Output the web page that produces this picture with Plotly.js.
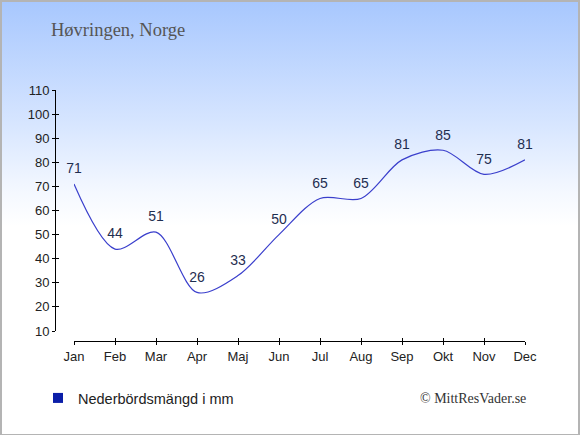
<!DOCTYPE html>
<html>
<head>
<meta charset="utf-8">
<script src="https://cdn.plot.ly/plotly-3.0.1.min.js"></script>
<style>
  html, body { margin: 0; padding: 0; }
  #wrap { position: relative; width: 580px; height: 435px;
    background: linear-gradient(to bottom, #a7c7fe 0%, #d6e5ff 28%, #f4f8ff 44%, #ffffff 52%, #ffffff 100%); }
  #chart { position: absolute; left: 0; top: 0; width: 580px; height: 435px; }
  #frame { position: absolute; left: 0; top: 0; width: 580px; height: 435px; box-sizing: border-box;
    border: 1px solid #b4b4b4; border-left-width: 2px; border-top-width: 2px; border-right-width: 2px; pointer-events: none; }
</style>
</head>
<body>
<div id="wrap"><div id="chart"></div><div id="frame"></div></div>
<script>
const months = ["Jan","Feb","Mar","Apr","Maj","Jun","Jul","Aug","Sep","Okt","Nov","Dec"];
const precipitation = [71, 44, 51, 26, 33, 50, 65, 65, 81, 85, 75, 81];
const yTicks = [10,20,30,40,50,60,70,80,90,100,110];
const seriesName = "Nederbördsmängd i mm";
const titleText = "Høvringen, Norge";
const creditText = "© MittResVader.se";

const W = 580, H = 435;
const px = v => v / W;
const py = v => 1 - v / H;

const main = {
  x: months, y: precipitation, type: "scatter", mode: "lines+markers+text",
  line: { shape: "spline", smoothing: 0.9, color: "#3a3fcc", width: 1.2 },
  marker: { size: 10, opacity: 0 },
  text: precipitation.map(String), textposition: "top center",
  textfont: { family: "Liberation Sans, Arial, sans-serif", size: 14, color: "#1f2e50" },
  cliponaxis: false, showlegend: false, hoverinfo: "skip"
};
const legendItem = {
  x: [null], y: [null], type: "scatter", mode: "markers", name: seriesName,
  marker: { symbol: "square", size: 10, color: "#0b1ea8" }, showlegend: true
};
const tickOverlay = {
  x: [null], y: [null], type: "scatter", mode: "markers", xaxis: "x2", yaxis: "y2",
  showlegend: false, hoverinfo: "skip"
};

const axFont = { family: "Liberation Sans, Arial, sans-serif", size: 13, color: "#222" };
const xDomain = [px(74), px(525)];
const yDomain = [py(331), py(90)];

const layout = {
  width: W, height: H,
  margin: { l: 0, r: 0, t: 0, b: 0 },
  paper_bgcolor: "rgba(0,0,0,0)", plot_bgcolor: "rgba(0,0,0,0)",
  title: { text: titleText, x: px(51), xanchor: "left", xref: "paper",
    y: py(30), yanchor: "middle", yref: "paper",
    font: { family: "Liberation Serif, DejaVu Serif, serif", size: 18.5, color: "#555" } },
  xaxis: { type: "category", categoryarray: months, range: [0, 11], domain: xDomain,
    anchor: "free", position: py(341), showline: true, linecolor: "#000", linewidth: 1,
    ticks: "outside", ticklen: 3, tickcolor: "#000", showgrid: false, zeroline: false,
    tickfont: axFont, fixedrange: true },
  yaxis: { range: [10, 110], tickvals: yTicks, domain: yDomain,
    anchor: "free", position: px(55), showline: true, linecolor: "#000", linewidth: 1,
    ticks: "outside", ticklen: 3, tickcolor: "#000", showgrid: false, zeroline: false,
    tickfont: axFont, fixedrange: true },
  xaxis2: { overlaying: "x", range: [0, 11], tickvals: months.map((m, i) => i), domain: xDomain,
    anchor: "free", position: py(341), showline: false, showticklabels: false,
    ticks: "inside", ticklen: 3, tickcolor: "#000", showgrid: false, zeroline: false },
  yaxis2: { overlaying: "y", range: [10, 110], tickvals: yTicks, domain: yDomain,
    anchor: "free", position: px(55), showline: false, showticklabels: false,
    ticks: "inside", ticklen: 3, tickcolor: "#000", showgrid: false, zeroline: false },
  showlegend: true,
  legend: { orientation: "h", x: px(38), xanchor: "left", y: py(398), yanchor: "middle",
    bgcolor: "rgba(0,0,0,0)", font: { family: "Liberation Sans, Arial, sans-serif", size: 14.5, color: "#222" },
    itemwidth: 30 },
  annotations: [
    { text: creditText, xref: "paper", yref: "paper", x: px(528), y: py(398),
      xanchor: "right", yanchor: "middle", showarrow: false,
      font: { family: "Liberation Serif, DejaVu Serif, serif", size: 14, color: "#333" } }
  ]
};

Plotly.newPlot("chart", [main, legendItem, tickOverlay], layout, { displayModeBar: false, staticPlot: true });
</script>
</body>
</html>
